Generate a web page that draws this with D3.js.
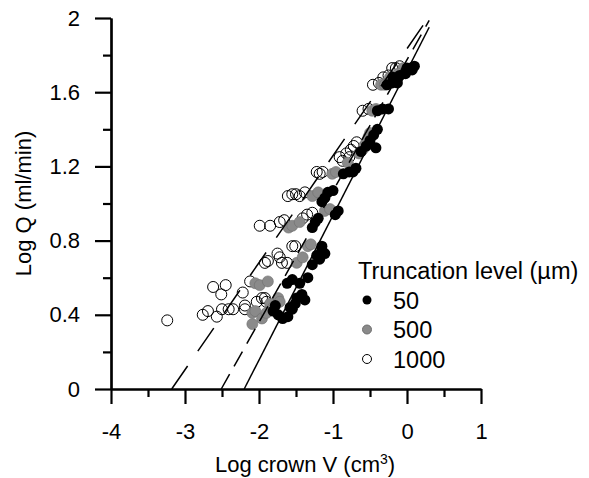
<!DOCTYPE html>
<html>
<head>
<meta charset="utf-8">
<script src="https://cdn.jsdelivr.net/npm/d3@7"></script>
<style>
  body { margin: 0; background: #fff; }
  text { font-family: "Liberation Sans", Arial, sans-serif; }
</style>
</head>
<body>
<div id="chart"></div>
<script>
// log crown V (cm3), log Q (ml/min) per truncation level
const pts50 = [
  [0.0,1.73],[0.05,1.73],[0.1,1.74],[0.07,1.72],
  [-0.19,1.68],[-0.1,1.69],[-0.02,1.70],
  [-0.27,1.64],[-0.2,1.65],[-0.13,1.65],
  [-0.4,1.50],[-0.33,1.51],[-0.25,1.51],
  [-0.62,1.28],[-0.55,1.31],[-0.5,1.34],[-0.45,1.37],[-0.4,1.40],[-0.42,1.30],
  [-0.86,1.16],[-0.78,1.17],[-0.73,1.17],[-0.69,1.19],
  [-1.07,1.06],[-1.0,1.07],[-1.11,1.03],[-1.15,1.01],
  [-0.93,0.96],[-0.97,0.94],
  [-1.2,0.92],[-1.24,0.90],[-1.28,0.87],
  [-1.15,0.77],[-1.22,0.72],[-1.28,0.67],[-1.18,0.70],[-1.11,0.73],[-1.15,0.75],
  [-1.62,0.57],[-1.55,0.59],[-1.34,0.60],[-1.45,0.57],
  [-1.42,0.51],[-1.49,0.49],[-1.51,0.46],[-1.38,0.48],
  [-1.81,0.42],[-1.68,0.38],[-1.61,0.39],[-1.58,0.44],[-1.74,0.40],[-1.55,0.43],[-1.78,0.45]
];
const pts500 = [
  [-0.05,1.73],[0.0,1.72],[-0.12,1.70],
  [-0.23,1.68],
  [-0.35,1.64],[-0.3,1.64],
  [-0.47,1.50],[-0.42,1.51],
  [-0.65,1.27],[-0.6,1.29],[-0.58,1.31],[-0.55,1.33],[-0.52,1.36],[-0.5,1.38],
  [-0.8,1.22],
  [-1.01,1.16],[-0.96,1.17],
  [-1.28,1.04],[-1.2,1.06],
  [-1.11,0.96],[-1.04,0.97],
  [-1.6,0.87],[-1.55,0.88],[-1.45,0.90],
  [-1.34,0.77],[-1.3,0.78],
  [-1.49,0.68],[-1.41,0.71],
  [-2.05,0.57],[-1.99,0.56],[-1.88,0.58],
  [-1.74,0.49],[-1.72,0.47],[-1.85,0.46],
  [-2.09,0.41],[-2.05,0.42],[-1.96,0.38],[-1.81,0.44],[-2.09,0.35],[-1.9,0.41]
];
const pts1000 = [
  [-0.2,1.73],[-0.15,1.73],[-0.1,1.74],
  [-0.32,1.68],[-0.25,1.69],
  [-0.46,1.64],[-0.38,1.65],
  [-0.6,1.50],[-0.52,1.51],
  [-0.82,1.27],[-0.78,1.25],[-0.76,1.29],[-0.72,1.31],[-0.68,1.33],
  [-0.91,1.25],[-0.87,1.23],
  [-1.22,1.17],[-1.18,1.16],[-1.14,1.17],
  [-1.61,1.04],[-1.55,1.05],[-1.5,1.05],[-1.45,1.04],[-1.38,1.06],
  [-1.41,0.92],[-1.35,0.94],[-1.28,0.95],
  [-1.99,0.88],[-1.85,0.88],[-1.72,0.90],[-1.66,0.91],
  [-1.55,0.77],[-1.51,0.77],
  [-1.92,0.68],[-1.88,0.69],[-1.75,0.73],[-1.72,0.71],[-1.69,0.68],[-1.62,0.68],
  [-2.12,0.58],[-2.22,0.52],[-2.19,0.45],[-2.03,0.47],[-1.96,0.49],[-1.92,0.49],[-1.9,0.47],
  [-2.62,0.55],[-2.45,0.56],[-2.51,0.51],
  [-2.76,0.40],[-2.69,0.42],[-2.57,0.39],[-2.5,0.43],[-2.41,0.43],[-2.35,0.43],[-2.19,0.43],
  [-3.24,0.37]
];
// regression lines: x where log Q = 0, slope, x end
const fit50 = { x0: -2.2, slope: 0.78, xEnd: 0.3 };
const fit500 = { x0: -2.51, slope: 0.707, xEnd: 0.3 };
const fit1000 = { x0: -3.18, slope: 0.577, xEnd: 0.26 };

const levels = ["50", "500", "1000"];
const xMajor = [-4, -3, -2, -1, 0, 1];
const xMinor = [-3.5, -2.5, -1.5, -0.5, 0.5];
const yMajor = [0, 0.4, 0.8, 1.2, 1.6, 2];
const yMinor = [0.2, 0.6, 1.0, 1.4, 1.8];

const W = 589, H = 478;
const FONT = 22;

const svg = d3.select("#chart").append("svg")
  .attr("width", W).attr("height", H);

const x = d3.scaleLinear().domain([-4, 1]).range([111, 481]);
const y = d3.scaleLinear().domain([0, 2]).range([389, 18]);

// y axis
const yAxisG = svg.append("g").attr("transform", `translate(${x(-4)},0)`);
yAxisG.call(d3.axisLeft(y).tickValues(yMajor).tickSize(16).tickSizeOuter(0).tickPadding(15)
  .tickFormat(d => d));
svg.append("g").attr("transform", `translate(${x(-4)},0)`)
  .call(d3.axisLeft(y).tickValues(yMinor).tickSize(8).tickSizeOuter(0).tickFormat(""));

// x axis
const xAxisG = svg.append("g").attr("transform", `translate(0,${y(0)})`);
xAxisG.call(d3.axisBottom(x).tickValues(xMajor).tickSize(15).tickSizeOuter(0).tickPadding(19)
  .tickFormat(d => d));
svg.append("g").attr("transform", `translate(0,${y(0)})`)
  .call(d3.axisBottom(x).tickValues(xMinor).tickSize(8).tickSizeOuter(0).tickFormat(""));

svg.selectAll(".domain").attr("stroke", "#000").attr("stroke-width", 2.2);
svg.selectAll(".tick line").attr("stroke", "#000").attr("stroke-width", 2.2);
svg.selectAll(".tick text").attr("fill", "#000")
  .style("font-size", FONT + "px")
  .style("font-family", "'Liberation Sans', Arial, sans-serif");
xAxisG.selectAll(".tick text").text(d => d < 0 ? "-" + Math.abs(d) : d);

// axis titles
const xTitle = svg.append("text")
  .attr("x", 305).attr("y", 472)
  .attr("text-anchor", "middle")
  .style("font-size", FONT + "px")
  .text("Log crown V (cm");
xTitle.append("tspan").attr("dy", -8).style("font-size", "14px").text("3");
xTitle.append("tspan").attr("dy", 8).text(")");

svg.append("text")
  .attr("transform", `translate(31,${(y(0) + y(2)) / 2}) rotate(-90)`)
  .attr("text-anchor", "middle")
  .style("font-size", FONT + "px")
  .text("Log Q (ml/min)");

// points
const R = 5.5;
const plot = svg.append("g");
plot.selectAll("circle.s1000").data(pts1000).join("circle")
  .attr("class", "s1000")
  .attr("cx", d => x(d[0])).attr("cy", d => y(d[1])).attr("r", R)
  .attr("fill", "none").attr("stroke", "#000").attr("stroke-width", 1);
plot.selectAll("circle.s500").data(pts500).join("circle")
  .attr("class", "s500")
  .attr("cx", d => x(d[0])).attr("cy", d => y(d[1])).attr("r", R)
  .attr("fill", "#8a8a8a").attr("stroke", "#6e6e6e").attr("stroke-width", 0.6);
plot.selectAll("circle.s50").data(pts50).join("circle")
  .attr("class", "s50")
  .attr("cx", d => x(d[0])).attr("cy", d => y(d[1])).attr("r", R)
  .attr("fill", "#000");

// regression lines
const fits = [
  { f: fit50, dash: null },
  { f: fit500, dash: "17,9" },
  { f: fit1000, dash: "28,18" }
];
fits.forEach(({ f, dash }) => {
  svg.append("line")
    .attr("x1", x(f.x0)).attr("y1", y(0))
    .attr("x2", x(f.xEnd)).attr("y2", y(f.slope * (f.xEnd - f.x0)))
    .attr("stroke", "#000").attr("stroke-width", 1.5)
    .attr("stroke-dasharray", dash);
});

// legend
const LEG_FONT = 23.5;
const leg = svg.append("g");
leg.append("text").attr("x", 358).attr("y", 279)
  .style("font-size", LEG_FONT + "px").text("Truncation level (\u00b5m)");
const legStyle = [
  { fill: "#000", stroke: "none" },
  { fill: "#8a8a8a", stroke: "#6e6e6e" },
  { fill: "#fff", stroke: "#000" }
];
levels.forEach((lv, i) => {
  const cy = 300 + i * 29.5;
  leg.append("circle").attr("cx", 367).attr("cy", cy).attr("r", 4.5)
    .attr("fill", legStyle[i].fill).attr("stroke", legStyle[i].stroke).attr("stroke-width", 1);
  leg.append("text").attr("x", 393).attr("y", cy + 8.5)
    .style("font-size", LEG_FONT + "px").text(lv);
});
</script>
</body>
</html>
